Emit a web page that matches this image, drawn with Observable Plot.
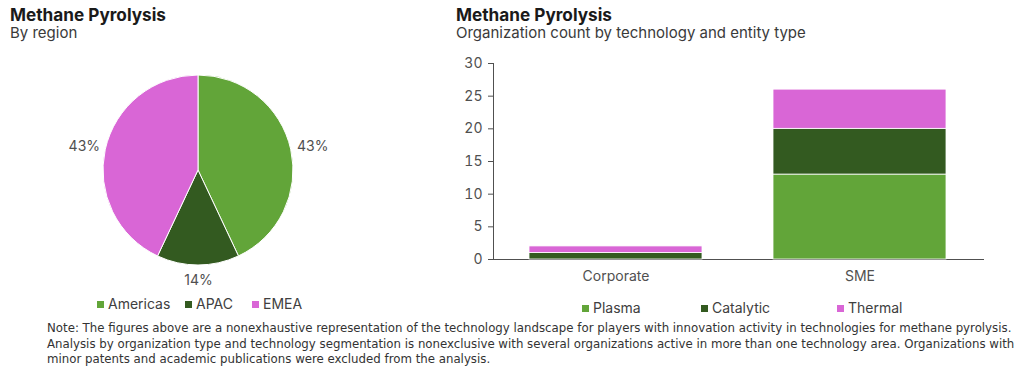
<!DOCTYPE html>
<html>
<head>
<meta charset="utf-8">
<script src="https://cdn.jsdelivr.net/npm/d3@7"></script>
<script src="https://cdn.jsdelivr.net/npm/@observablehq/plot@0.6"></script>
<style>
  html, body { margin: 0; padding: 0; background: #fff; }
  body { width: 1024px; height: 371px; position: relative; overflow: hidden; font-family: Inter, "Open Sans", sans-serif; color: #333; }
  .title { position: absolute; font-weight: 700; font-size: 17.2px; line-height: 20px; color: #1a1a1a; }
  .subtitle { position: absolute; font-size: 15px; line-height: 18px; color: #3a3a3a; }
  .chart { position: absolute; }
  .legend { position: absolute; display: flex; font-size: 14px; color: #404040; line-height: 18px; }
  .legend .item { display: flex; align-items: center; }
  .legend .sw { width: 7px; height: 7px; margin-right: 4px; }
  .note { position: absolute; left: 47px; top: 320px; width: 972px; font-family: "Liberation Sans Narrow", "DejaVu Sans Condensed", sans-serif; font-size: 13.1px; line-height: 15.5px; color: #333; }
  #bar g[aria-label$="axis"] line, #bar g[aria-label$="axis"] path { stroke: #d9d9d9; }
  #bar g[aria-label$="axis"] text { fill: #505050; }
</style>
</head>
<body>
<div class="title" style="left:10px; top:5px;">Methane Pyrolysis</div>
<div class="subtitle" style="left:10px; top:24px;">By region</div>
<div class="title" style="left:456px; top:5px;">Methane Pyrolysis</div>
<div class="subtitle" style="left:456px; top:24px;">Organization count by technology and entity type</div>
<div id="pie" class="chart" style="left:0px; top:50px;"></div>
<div id="pieLegend" class="legend" style="left:97px; top:295px;"></div>
<div id="bar" class="chart" style="left:440px; top:50px;"></div>
<div id="barLegend" class="legend" style="left:582px; top:299px;"></div>
<div class="note">Note: The figures above are a nonexhaustive representation of the technology landscape for players with innovation activity in technologies for methane pyrolysis. Analysis by organization type and technology segmentation is nonexclusive with several organizations active in more than one technology area. Organizations with minor patents and academic publications were excluded from the analysis.</div>
<script>
// ---- Data ----
const regions = ["Americas", "APAC", "EMEA"];
const regionShares = [43, 14, 43];
const orgTypes = ["Corporate", "SME"];
const techs = ["Plasma", "Catalytic", "Thermal"];
const plasmaCounts = [0, 13];
const catalyticCounts = [1, 7];
const thermalCounts = [1, 6];
const palette = ["#62a539", "#335a20", "#d966d6"];

// ---- Pie ----
const pxPerUnit = 95; // pie radius in px
const regionData = regions.map((r, i) => ({region: r, value: regionShares[i]}));
const arcs = d3.pie().sort(null).value(d => d.value)(regionData);
// outside-end labels: anchored just outside the arc, text box pushed outward
const labelGap = 8, halfW = 14, halfH = 7;
const labels = arcs.map(a => {
  const mid = (a.startAngle + a.endAngle) / 2;
  const s = Math.sin(mid), c = Math.cos(mid);
  const px = s * (pxPerUnit + labelGap) + s * halfW;
  const py = c * (pxPerUnit + labelGap) + c * halfH;
  return {x: px / pxPerUnit, y: py / pxPerUnit, text: a.data.value + "%"};
});
const pieW = 396, pieH = 240;
const pie = Plot.plot({
  width: pieW, height: pieH, margin: 0,
  x: {domain: [-pieW / 2 / pxPerUnit, pieW / 2 / pxPerUnit], axis: null},
  y: {domain: [-pieH / 2 / pxPerUnit, pieH / 2 / pxPerUnit], axis: null},
  style: {fontFamily: "Inter, sans-serif", overflow: "visible"},
  marks: [
    (index, scales) => {
      const cx = scales.x(0), cy = scales.y(0), r = scales.x(1) - scales.x(0);
      const arcGen = d3.arc().innerRadius(0).outerRadius(r);
      const g = d3.create("svg:g").attr("transform", `translate(${cx},${cy})`);
      g.selectAll("path").data(arcs).join("path")
        .attr("d", arcGen)
        .attr("fill", (d, i) => palette[i])
        .attr("stroke", "#fff")
        .attr("stroke-width", 1);
      return g.node();
    },
    Plot.text(labels, {x: "x", y: "y", text: "text", fontSize: 14, fill: "#505050"})
  ]
});
document.getElementById("pie").appendChild(pie);

function buildLegend(el, names, widths) {
  names.forEach((n, i) => {
    const item = document.createElement("div");
    item.className = "item";
    if (widths) item.style.width = widths[i] + "px";
    const sw = document.createElement("span");
    sw.className = "sw"; sw.style.background = palette[i];
    const t = document.createElement("span"); t.textContent = n;
    item.appendChild(sw); item.appendChild(t);
    el.appendChild(item);
  });
}
buildLegend(document.getElementById("pieLegend"), regions, [88, 67, 70]);

// ---- Bar ----
const counts = [plasmaCounts, catalyticCounts, thermalCounts];
const rows = [];
orgTypes.forEach((o, j) => techs.forEach((t, i) => rows.push({org: o, tech: t, count: counts[i][j]})));
const bar = Plot.plot({
  width: 560, height: 239,
  marginLeft: 53, marginRight: 17, marginTop: 13, marginBottom: 30,
  style: {fontFamily: "Inter, sans-serif", fontSize: "14px", color: "#505050", overflow: "visible"},
  x: {domain: orgTypes, paddingInner: 0.29, paddingOuter: 0.147, label: null, tickSize: 0, tickPadding: 12, line: true},
  y: {domain: [0, 30], ticks: [0, 5, 10, 15, 20, 25, 30], label: null, tickSize: 5, tickPadding: 6, line: true},
  color: {domain: techs, range: palette},
  marks: [
    Plot.barY(rows, {x: "org", y: "count", fill: "tech", stroke: "#fff", strokeWidth: 0.8, inset: 0})
  ]
});
document.getElementById("bar").appendChild(bar);
buildLegend(document.getElementById("barLegend"), techs, [119, 136, 80]);
</script>
</body>
</html>
